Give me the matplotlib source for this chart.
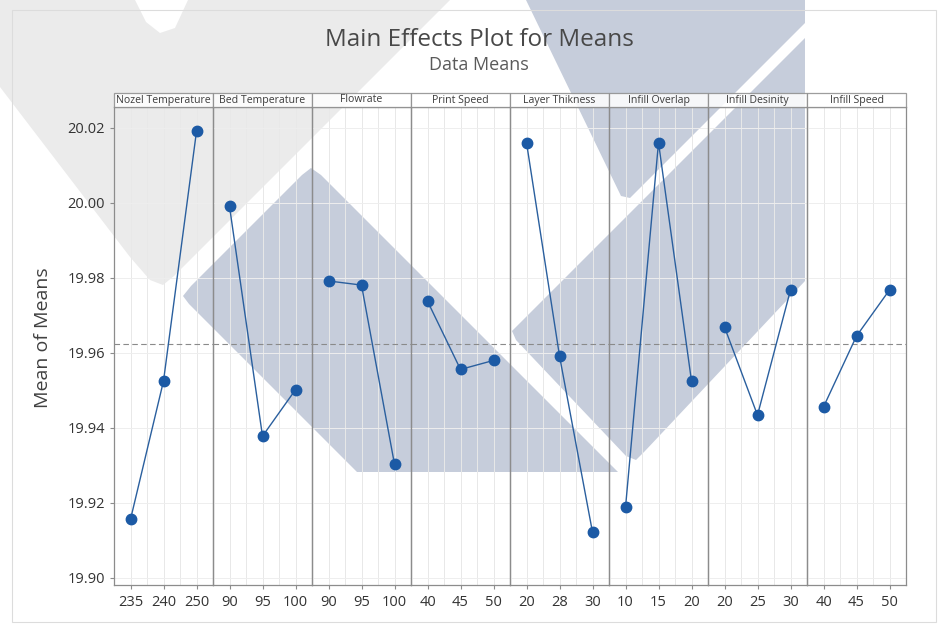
import matplotlib
matplotlib.use("Agg")
import matplotlib.pyplot as plt
from matplotlib.patches import Polygon, Rectangle
from matplotlib.ticker import MultipleLocator
import numpy as np

# factors, levels and the mean of means at each level
factors = ['Nozel Temperature', 'Bed Temperature', 'Flowrate', 'Print Speed',
           'Layer Thikness', 'Infill Overlap', 'Infill Desinity', 'Infill Speed']
levels = [['235', '240', '250'], ['90', '95', '100'], ['90', '95', '100'],
          ['40', '45', '50'], ['20', '28', '30'], ['10', '15', '20'],
          ['20', '25', '30'], ['40', '45', '50']]
means = [[19.9155, 19.9524, 20.0190],
         [19.9990, 19.9377, 19.9501],
         [19.9791, 19.9780, 19.9302],
         [19.9737, 19.9555, 19.9579],
         [20.0160, 19.9591, 19.9121],
         [19.9187, 20.0160, 19.9524],
         [19.9668, 19.9433, 19.9767],
         [19.9455, 19.9644, 19.9767]]
grand_mean = 19.9622

W, H = 942, 630
fig = plt.figure(figsize=(W / 100, H / 100), dpi=100)
plt.rcParams['font.family'] = ['Open Sans', 'DejaVu Sans']


def px(pts):
    # pixel coords (from top-left) -> figure fraction
    return [(x / W, 1 - y / H) for x, y in pts]


def bg_poly(pts, color, z=-9):
    fig.patches.append(Polygon(px(pts), closed=True, transform=fig.transFigure,
                               facecolor=color, edgecolor='none', zorder=z))


# background watermark (rough copy)
wm_gray = '#ebebeb'
wm_blue = '#c6cddb'
bg_poly([(0, 0), (135, 0), (146, 22), (160, 33), (175, 28), (188, 0),
         (450, 0), (174, 276), (163, 285), (150, 280), (130, 257), (0, 87)],
        wm_gray, -10)
bg_poly([(191, 286), (302, 175), (311, 168), (321, 175), (618, 472),
         (357, 472), (189, 304), (183, 296)], wm_blue)
bg_poly([(526, 0), (805, 0), (805, 23), (630, 198), (621, 196)], wm_blue)
bg_poly([(805, 38), (805, 281), (645, 451), (636, 460), (626, 456),
         (516, 340), (512, 331)], wm_blue)
# light outer frame
fig.patches.append(Rectangle((12 / W, 1 - 622 / H), 924 / W, 612 / H,
                             transform=fig.transFigure, fill=False,
                             edgecolor='#dcdcdc', lw=0.8, zorder=-8))

left, right = 114 / W, 906 / W
bottom, top = 1 - 585 / H, 1 - 107 / H
n = len(factors)
pw = (right - left) / n

spine_c = '#8c8c8c'
line_c = '#2a5f9e'
dot_c = '#1c5aa5'

axes = []
for i in range(n):
    ax = fig.add_axes([left + i * pw, bottom, pw, top - bottom],
                      sharey=axes[0] if axes else None)
    axes.append(ax)
    ax.set_facecolor('none')
    x = np.arange(len(levels[i]))
    ax.plot(x, means[i], color=line_c, lw=1.0, zorder=3)
    ax.plot(x, means[i], 'o', color=dot_c, ms=7.5, zorder=4)
    ax.axhline(grand_mean, color='#8a8a8a', lw=0.8, ls=(0, (5, 3)), zorder=2)
    ax.set_xlim(-0.5, 2.5)
    ax.set_xticks(x)
    ax.set_xticklabels(levels[i])
    ax.xaxis.set_minor_locator(MultipleLocator(0.5))
    ax.grid(True, which='both', axis='x', color='#e8e8e8', lw=0.7, zorder=0)
    ax.grid(True, which='major', axis='y', color='#eeeeee', lw=0.7, zorder=0)
    ax.tick_params(which='minor', length=0)
    ax.tick_params(axis='x', length=3, color=spine_c, labelsize=10.5,
                   labelcolor='#333333', pad=4)
    for s in ax.spines.values():
        s.set_color(spine_c)
        s.set_linewidth(0.9)
    if i == 0:
        ax.set_ylim(19.898, 20.0255)
        ax.set_yticks([19.90, 19.92, 19.94, 19.96, 19.98, 20.00, 20.02])
        ax.yaxis.set_major_formatter(plt.FormatStrFormatter('%.2f'))
        ax.tick_params(axis='y', length=3, color=spine_c, labelsize=10.5,
                       labelcolor='#333333')
        ax.set_ylabel('Mean of Means', fontsize=14, color='#404040')
        ax.yaxis.set_label_coords(-0.63, 0.517)
    else:
        ax.tick_params(axis='y', left=False, labelleft=False)
    # strip with factor name
    sh = 14 / 478
    ax.add_patch(Rectangle((0, 1), 1, sh, transform=ax.transAxes,
                           facecolor='white', edgecolor=spine_c, lw=0.9,
                           alpha=0.85, clip_on=False, zorder=5))
    ax.text(0.5, 1 + sh / 2, factors[i], transform=ax.transAxes,
            ha='center', va='center', fontsize=7.6, color='#3c3c3c', zorder=6)

fig.text(479 / W, 1 - 40 / H, 'Main Effects Plot for Means', ha='center',
         va='center', fontsize=17.5, color='#484848', fontweight='medium')
fig.text(479 / W, 1 - 65 / H, 'Data Means', ha='center', va='center',
         fontsize=13, color='#5a5a5a')

fig.savefig('out.png', dpi=100)
